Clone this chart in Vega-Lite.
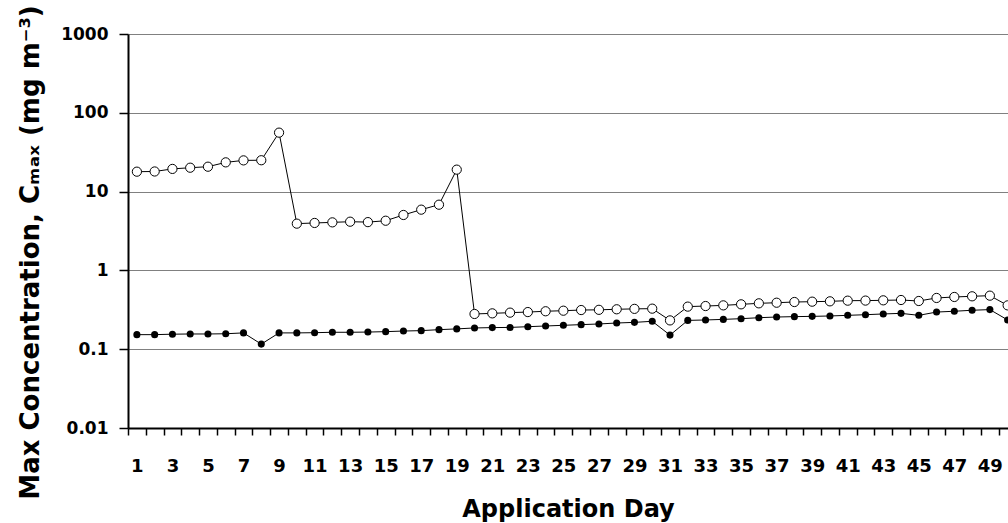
{
  "$schema": "https://vega.github.io/schema/vega-lite/v6.json",
  "width": 880,
  "height": 394,
  "autosize": {"type": "none"},
  "padding": {"left": 128, "top": 34, "right": 0, "bottom": 95},
  "background": "white",
  "config": {"view": {"stroke": null}},
  "data": {"values": [
    {"day": 1, "value": 17.9, "series": "open"},
    {"day": 2, "value": 18.0, "series": "open"},
    {"day": 3, "value": 19.4, "series": "open"},
    {"day": 4, "value": 20.1, "series": "open"},
    {"day": 5, "value": 20.7, "series": "open"},
    {"day": 6, "value": 23.5, "series": "open"},
    {"day": 7, "value": 24.9, "series": "open"},
    {"day": 8, "value": 25.0, "series": "open"},
    {"day": 9, "value": 56, "series": "open"},
    {"day": 10, "value": 3.92, "series": "open"},
    {"day": 11, "value": 4.0, "series": "open"},
    {"day": 12, "value": 4.07, "series": "open"},
    {"day": 13, "value": 4.15, "series": "open"},
    {"day": 14, "value": 4.1, "series": "open"},
    {"day": 15, "value": 4.27, "series": "open"},
    {"day": 16, "value": 5.05, "series": "open"},
    {"day": 17, "value": 5.9, "series": "open"},
    {"day": 18, "value": 6.82, "series": "open"},
    {"day": 19, "value": 19.0, "series": "open"},
    {"day": 20, "value": 0.28, "series": "open"},
    {"day": 21, "value": 0.285, "series": "open"},
    {"day": 22, "value": 0.291, "series": "open"},
    {"day": 23, "value": 0.296, "series": "open"},
    {"day": 24, "value": 0.303, "series": "open"},
    {"day": 25, "value": 0.308, "series": "open"},
    {"day": 26, "value": 0.314, "series": "open"},
    {"day": 27, "value": 0.316, "series": "open"},
    {"day": 28, "value": 0.321, "series": "open"},
    {"day": 29, "value": 0.325, "series": "open"},
    {"day": 30, "value": 0.327, "series": "open"},
    {"day": 31, "value": 0.232, "series": "open"},
    {"day": 32, "value": 0.347, "series": "open"},
    {"day": 33, "value": 0.353, "series": "open"},
    {"day": 34, "value": 0.36, "series": "open"},
    {"day": 35, "value": 0.371, "series": "open"},
    {"day": 36, "value": 0.382, "series": "open"},
    {"day": 37, "value": 0.389, "series": "open"},
    {"day": 38, "value": 0.397, "series": "open"},
    {"day": 39, "value": 0.401, "series": "open"},
    {"day": 40, "value": 0.405, "series": "open"},
    {"day": 41, "value": 0.413, "series": "open"},
    {"day": 42, "value": 0.414, "series": "open"},
    {"day": 43, "value": 0.417, "series": "open"},
    {"day": 44, "value": 0.421, "series": "open"},
    {"day": 45, "value": 0.409, "series": "open"},
    {"day": 46, "value": 0.447, "series": "open"},
    {"day": 47, "value": 0.46, "series": "open"},
    {"day": 48, "value": 0.469, "series": "open"},
    {"day": 49, "value": 0.478, "series": "open"},
    {"day": 50, "value": 0.36, "series": "open"},
    {"day": 1, "value": 0.153, "series": "filled"},
    {"day": 2, "value": 0.153, "series": "filled"},
    {"day": 3, "value": 0.155, "series": "filled"},
    {"day": 4, "value": 0.156, "series": "filled"},
    {"day": 5, "value": 0.156, "series": "filled"},
    {"day": 6, "value": 0.157, "series": "filled"},
    {"day": 7, "value": 0.161, "series": "filled"},
    {"day": 8, "value": 0.116, "series": "filled"},
    {"day": 9, "value": 0.161, "series": "filled"},
    {"day": 10, "value": 0.161, "series": "filled"},
    {"day": 11, "value": 0.162, "series": "filled"},
    {"day": 12, "value": 0.164, "series": "filled"},
    {"day": 13, "value": 0.164, "series": "filled"},
    {"day": 14, "value": 0.165, "series": "filled"},
    {"day": 15, "value": 0.167, "series": "filled"},
    {"day": 16, "value": 0.170, "series": "filled"},
    {"day": 17, "value": 0.172, "series": "filled"},
    {"day": 18, "value": 0.177, "series": "filled"},
    {"day": 19, "value": 0.181, "series": "filled"},
    {"day": 20, "value": 0.186, "series": "filled"},
    {"day": 21, "value": 0.188, "series": "filled"},
    {"day": 22, "value": 0.189, "series": "filled"},
    {"day": 23, "value": 0.193, "series": "filled"},
    {"day": 24, "value": 0.197, "series": "filled"},
    {"day": 25, "value": 0.201, "series": "filled"},
    {"day": 26, "value": 0.205, "series": "filled"},
    {"day": 27, "value": 0.209, "series": "filled"},
    {"day": 28, "value": 0.215, "series": "filled"},
    {"day": 29, "value": 0.219, "series": "filled"},
    {"day": 30, "value": 0.226, "series": "filled"},
    {"day": 31, "value": 0.151, "series": "filled"},
    {"day": 32, "value": 0.232, "series": "filled"},
    {"day": 33, "value": 0.235, "series": "filled"},
    {"day": 34, "value": 0.239, "series": "filled"},
    {"day": 35, "value": 0.244, "series": "filled"},
    {"day": 36, "value": 0.251, "series": "filled"},
    {"day": 37, "value": 0.256, "series": "filled"},
    {"day": 38, "value": 0.259, "series": "filled"},
    {"day": 39, "value": 0.261, "series": "filled"},
    {"day": 40, "value": 0.264, "series": "filled"},
    {"day": 41, "value": 0.269, "series": "filled"},
    {"day": 42, "value": 0.274, "series": "filled"},
    {"day": 43, "value": 0.28, "series": "filled"},
    {"day": 44, "value": 0.285, "series": "filled"},
    {"day": 45, "value": 0.269, "series": "filled"},
    {"day": 46, "value": 0.296, "series": "filled"},
    {"day": 47, "value": 0.303, "series": "filled"},
    {"day": 48, "value": 0.312, "series": "filled"},
    {"day": 49, "value": 0.318, "series": "filled"},
    {"day": 50, "value": 0.235, "series": "filled"}
  ]},
  "layer": [
    {
      "mark": {"type": "line", "color": "black", "strokeWidth": 1},
      "encoding": {
        "x": {
          "field": "day", "type": "quantitative",
          "scale": {"domain": [0.5, 50.02], "nice": false, "zero": false},
          "axis": {
            "orient": "bottom",
            "values": [1,3,5,7,9,11,13,15,17,19,21,23,25,27,29,31,33,35,37,39,41,43,45,47,49],
            "ticks": false, "grid": false,
            "domain": true, "domainColor": "black", "domainWidth": 2,
            "labelPadding": 29, "labelFont": "DejaVu Sans", "labelFontSize": 18,
            "labelFontWeight": "bold", "labelColor": "black",
            "labelFlush": false, "labelOverlap": false,
            "title": "Application Day", "titleFont": "DejaVu Sans", "titleFontSize": 24,
            "titleFontWeight": "bold", "titleColor": "black", "titlePadding": 22
          }
        },
        "y": {
          "field": "value", "type": "quantitative",
          "scale": {"type": "log", "domain": [0.01, 1000], "nice": false},
          "axis": {
            "values": [0.01, 0.1, 1, 10, 100, 1000], "format": "~g",
            "grid": true, "gridColor": "#808080", "gridWidth": 1,
            "domainColor": "black", "domainWidth": 2,
            "tickColor": "black", "tickWidth": 1.5, "tickSize": 9,
            "labelPadding": 11, "labelFont": "DejaVu Sans", "labelFontSize": 17,
            "labelFontWeight": "bold", "labelColor": "black",
            "title": "Max Concentration, Cₘₐₓ (mg m⁻³)",
            "titleFont": "DejaVu Sans", "titleFontSize": 26, "titleFontWeight": "bold",
            "titleColor": "black", "titlePadding": 17, "titleY": 218
          }
        },
        "detail": {"field": "series"}
      }
    },
    {
      "transform": [{"filter": "datum.series === 'filled'"}],
      "mark": {"type": "point", "shape": "circle", "filled": true, "color": "black", "size": 50, "opacity": 1},
      "encoding": {
        "x": {
          "field": "day", "type": "quantitative",
          "axis": {
            "orient": "bottom",
            "values": [0.5,1.5,2.5,3.5,4.5,5.5,6.5,7.5,8.5,9.5,10.5,11.5,12.5,13.5,14.5,15.5,16.5,17.5,18.5,19.5,20.5,21.5,22.5,23.5,24.5,25.5,26.5,27.5,28.5,29.5,30.5,31.5,32.5,33.5,34.5,35.5,36.5,37.5,38.5,39.5,40.5,41.5,42.5,43.5,44.5,45.5,46.5,47.5,48.5,49.5],
            "labels": false, "ticks": true, "tickSize": 7, "tickColor": "black", "tickWidth": 1.5,
            "domain": false, "grid": false, "title": null
          }
        },
        "y": {"field": "value", "type": "quantitative"}
      }
    },
    {
      "transform": [{"filter": "datum.series === 'open'"}],
      "mark": {"type": "point", "shape": "circle", "filled": true, "fill": "white", "stroke": "black", "strokeWidth": 1, "size": 85, "opacity": 1},
      "encoding": {
        "x": {"field": "day", "type": "quantitative", "axis": null},
        "y": {"field": "value", "type": "quantitative"}
      }
    }
  ],
  "resolve": {"axis": {"x": "independent"}}
}
